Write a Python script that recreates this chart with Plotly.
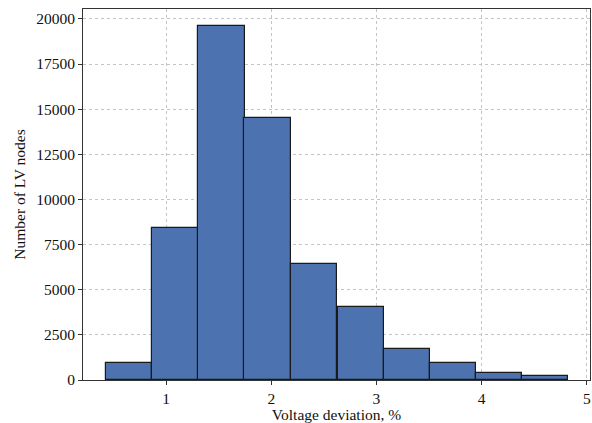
import plotly.graph_objects as go

bin_left = [0.43, 0.87, 1.307, 1.745, 2.19, 2.63, 3.067, 3.505, 3.946, 4.38]
bin_width = 0.439
counts = [920, 8420, 19600, 14500, 6420, 4040, 1720, 930, 370, 210]

centers = [b + bin_width / 2 for b in bin_left]

fig = go.Figure(go.Bar(
    x=centers, y=counts, width=[bin_width] * len(counts),
    marker=dict(color="#4c72b0", line=dict(color="#1a1a1a", width=1.2)),
))

axis_common = dict(
    showline=True, linecolor="#333333", linewidth=1, mirror=True,
    ticks="outside", ticklen=4, tickcolor="#333333",
    showgrid=True, gridcolor="#c4c4c4", griddash="dot", gridwidth=1,
    zeroline=False, automargin=False,
    tickfont=dict(family="Liberation Serif", size=15.5, color="#111111"),
)

fig.update_layout(
    width=592, height=423,
    margin=dict(l=83, r=2, t=9, b=43),
    paper_bgcolor="white", plot_bgcolor="white",
    bargap=0, showlegend=False,
    font=dict(family="Liberation Serif", size=15, color="#111111"),
    xaxis=dict(range=[0.21, 5.03], tickvals=[1, 2, 3, 4, 5], tickformat="d",
               title=dict(text="Voltage deviation, %", standoff=3,
                          font=dict(family="Liberation Serif", size=15.5)),
               **axis_common),
    yaxis=dict(range=[0, 20550], tickvals=[0, 2500, 5000, 7500, 10000, 12500, 15000, 17500, 20000],
               tickformat="d",
               title=dict(text="Number of LV nodes", standoff=6,
                          font=dict(family="Liberation Serif", size=15.5)),
               **axis_common),
)

fig.write_html("out.html", config={"displayModeBar": False},
               post_script="document.body.style.margin='0';document.body.style.overflow='hidden';")
